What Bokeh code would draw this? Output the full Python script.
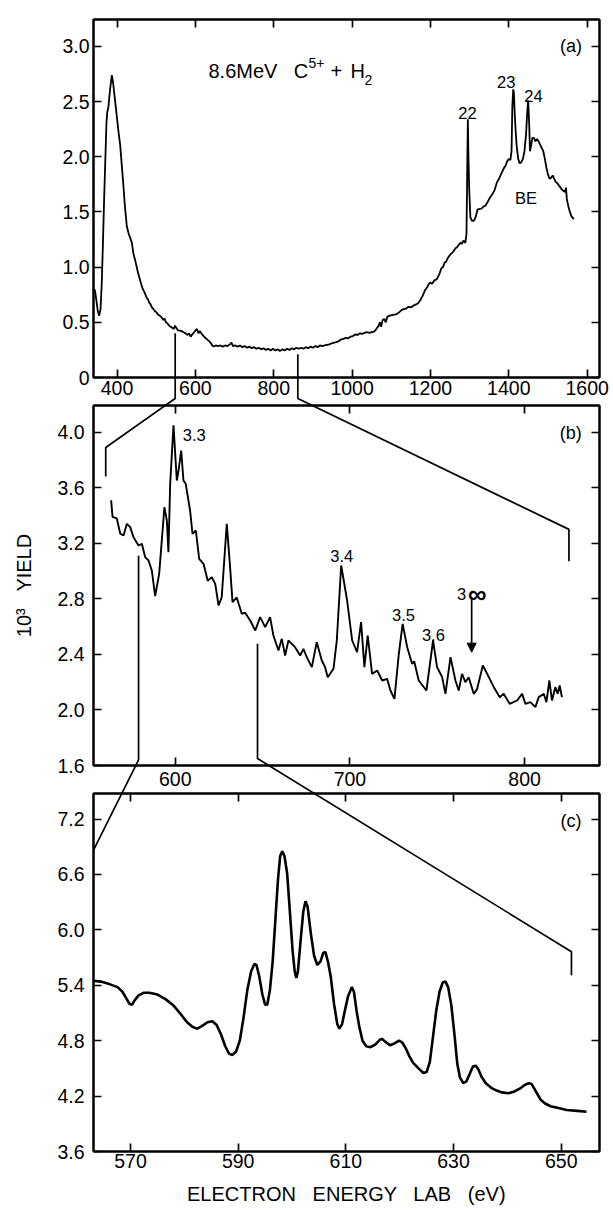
from bokeh.plotting import figure
from bokeh.layouts import column
from bokeh.models import (Range1d, LinearAxis, FixedTicker, Label, Arrow, NormalHead,
                          PrintfTickFormatter)
from bokeh.embed import file_html
from bokeh.resources import INLINE

FONT = "Liberation Sans"

# ---------------- data ----------------
# panel (a): 8.6 MeV C5+ + H2, full spectrum
a_energy = [342.6, 345, 348, 351, 354.6, 358, 361, 364, 367, 370, 373, 375, 378, 382, 386.8, 390, 395, 400, 404, 408,
            412, 416.7, 420, 425, 430, 434, 438, 442, 446.5, 451, 455, 459, 463, 466, 469, 472, 476, 479, 482, 486,
            489, 493, 497, 501, 505, 509, 514, 518, 521, 525, 529, 533, 537, 541, 545, 548, 551, 555, 560, 565,
            570, 575, 580, 584, 588, 592, 597, 601, 604, 608, 612, 616, 620, 625, 630, 635, 640, 643, 647, 652,
            658, 664, 670, 676, 682, 688, 692, 696, 702, 708, 714, 720, 726, 732, 738, 744, 750, 756, 762, 768,
            774, 780, 786, 792, 798, 804, 810, 816, 822, 828, 834, 840, 846, 852, 858, 864, 870, 876, 882, 888,
            894, 900, 906, 912, 918, 924, 930, 936, 942, 948, 954, 960, 966, 972, 978, 984, 990, 996, 1002, 1008,
            1014, 1020, 1026, 1032, 1038, 1044, 1050, 1056, 1060, 1064, 1068, 1071, 1074, 1078, 1082, 1086, 1090,
            1096, 1102, 1108, 1114, 1120, 1126, 1132, 1138, 1144, 1150, 1156, 1162, 1168, 1174, 1180, 1186, 1192,
            1198, 1204, 1210, 1216, 1222, 1228, 1232, 1236, 1240, 1244, 1248, 1252, 1256, 1260, 1264, 1268, 1272,
            1276, 1280, 1284, 1289, 1292, 1294, 1295.5, 1297, 1299, 1302, 1306, 1311, 1316, 1320, 1324, 1330,
            1336, 1340, 1346, 1352, 1358, 1364, 1370, 1375, 1380, 1384, 1388, 1392, 1396, 1400, 1404, 1407, 1409,
            1411.2, 1413, 1415, 1417, 1420, 1424, 1428, 1432, 1436, 1440, 1444, 1447, 1449.5, 1452, 1454, 1457,
            1460, 1464, 1468, 1472, 1476, 1480, 1484, 1488, 1492, 1496, 1500, 1504, 1508, 1512, 1516, 1520, 1524,
            1528, 1532, 1536, 1540, 1544, 1546, 1548, 1552, 1556, 1560, 1566]
a_yield = [0.80, 0.76, 0.68, 0.60, 0.56, 0.62, 0.85, 1.20, 1.60, 1.95, 2.30, 2.40, 2.45, 2.60, 2.74, 2.67, 2.51, 2.35, 2.22, 2.11,
           1.93, 1.72, 1.56, 1.37, 1.30, 1.26, 1.22, 1.12, 1.06, 0.99, 0.93, 0.88, 0.83, 0.80, 0.78, 0.755, 0.72, 0.71, 0.68, 0.66,
           0.635, 0.62, 0.60, 0.59, 0.57, 0.56, 0.545, 0.52, 0.535, 0.50, 0.49, 0.47, 0.46, 0.45, 0.44, 0.47, 0.45, 0.43, 0.425, 0.42,
           0.41, 0.40, 0.385, 0.40, 0.37, 0.39, 0.41, 0.43, 0.44, 0.40, 0.42, 0.395, 0.38, 0.36, 0.345, 0.33, 0.31, 0.29, 0.28, 0.29,
           0.285, 0.29, 0.28, 0.29, 0.285, 0.30, 0.315, 0.285, 0.29, 0.28, 0.29, 0.275, 0.285, 0.27, 0.28, 0.265, 0.275, 0.26, 0.27, 0.255,
           0.265, 0.25, 0.26, 0.245, 0.26, 0.245, 0.255, 0.24, 0.255, 0.245, 0.26, 0.25, 0.265, 0.255, 0.27, 0.26, 0.27, 0.26, 0.275, 0.265,
           0.28, 0.27, 0.285, 0.275, 0.29, 0.285, 0.29, 0.295, 0.30, 0.31, 0.315, 0.32, 0.33, 0.345, 0.35, 0.36, 0.355, 0.37, 0.375, 0.39,
           0.385, 0.40, 0.395, 0.405, 0.41, 0.405, 0.41, 0.415, 0.43, 0.45, 0.47, 0.50, 0.46, 0.52, 0.53, 0.50, 0.55,
           0.56, 0.565, 0.57, 0.575, 0.59, 0.61, 0.62, 0.625, 0.64, 0.635, 0.65, 0.66, 0.67, 0.70, 0.74, 0.79, 0.82,
           0.86, 0.85, 0.88, 0.89, 0.93, 0.99, 1.00, 1.04, 1.05, 1.08, 1.10, 1.12, 1.13, 1.15, 1.17, 1.18, 1.20,
           1.22, 1.21, 1.24, 1.22, 1.30, 1.90, 2.34, 2.00, 1.70, 1.45, 1.42, 1.42, 1.46, 1.52, 1.525, 1.53,
           1.55, 1.555, 1.59, 1.63, 1.66, 1.70, 1.77, 1.80, 1.84, 1.87, 1.90, 1.92, 1.96, 1.98, 1.97, 2.05, 2.45,
           2.61, 2.58, 2.40, 2.26, 2.10, 1.98, 1.94, 1.95, 1.98, 2.05, 2.20, 2.40, 2.51, 2.30, 2.05, 2.10,
           2.17, 2.17, 2.14, 2.16, 2.14, 2.11, 2.08, 2.05, 1.98, 1.90, 1.84, 1.80, 1.81, 1.83, 1.80, 1.77, 1.76,
           1.74, 1.72, 1.70, 1.69, 1.68, 1.72, 1.62, 1.55, 1.50, 1.46, 1.435]

# panel (b): expanded 560-825 eV
b_energy = [563.3, 564.1, 566.5, 568.5, 570.4, 572.3, 574.2, 576.1, 579.0, 580.9, 582.8, 584.7, 586.6, 588.5, 590.8,
            593.8, 595.2, 596.1, 597.1, 599.0, 600.9, 601.9, 603.4, 604.7, 606.0, 608.5, 609.9, 611.8, 613.7, 616.2,
            618.6, 620.9, 622.9, 624.8, 626.6, 629.5, 631.4, 632.8, 635.2, 638.1, 640.0, 642.9, 645.8, 648.6, 651.5,
            654.3, 656.2, 659.1, 661.0, 662.9, 664.8, 668.6, 671.5, 673.4, 675.3, 678.2, 681.0, 683.9, 685.8, 687.3,
            690.6, 692.5, 695.0, 696.5, 698.4, 701.3, 704.1, 706.4, 708.3, 710.2, 712.7, 715.6, 718.5, 721.3, 723.2,
            725.5, 728.0, 730.2, 732.8, 735.6, 736.8, 739.4, 743.8, 747.6, 749.9, 752.8, 754.7, 757.6, 760.4, 762.3,
            764.2, 766.1, 768.0, 770.9, 772.8, 776.1, 778.6, 782.4, 785.8, 788.0, 791.5, 795.7, 798.6, 800.5, 803.3,
            806.2, 808.1, 811.0, 812.5, 814.2, 815.7, 817.6, 819.0, 820.1, 821.4]
b_yield = [3.51, 3.39, 3.38, 3.27, 3.256, 3.34, 3.316, 3.244, 3.184, 3.196, 3.10, 3.076, 3.004, 2.82, 2.98,
           3.46, 3.364, 3.136, 3.628, 4.05, 3.652, 3.724, 3.868, 3.652, 3.628, 3.436, 3.268, 3.292, 3.088, 3.052,
           2.93, 2.956, 2.908, 2.752, 2.81, 3.34, 3.028, 2.776, 2.81, 2.692, 2.70, 2.644, 2.572, 2.668, 2.596,
           2.668, 2.536, 2.428, 2.512, 2.392, 2.50, 2.452, 2.392, 2.44, 2.38, 2.308, 2.488, 2.356, 2.308, 2.236,
           2.296, 2.50, 3.04, 2.93, 2.788, 2.50, 2.416, 2.632, 2.308, 2.536, 2.26, 2.284, 2.212, 2.224, 2.14,
           2.08, 2.404, 2.62, 2.452, 2.332, 2.35, 2.212, 2.14, 2.50, 2.308, 2.236, 2.116, 2.38, 2.212, 2.14,
           2.26, 2.20, 2.236, 2.116, 2.15, 2.32, 2.26, 2.164, 2.092, 2.116, 2.044, 2.068, 2.116, 2.044, 2.056,
           2.02, 2.092, 2.116, 2.056, 2.212, 2.068, 2.164, 2.116, 2.176, 2.092]

# panel (c): expanded 563-655 eV
c_energy = [562.8, 564.5, 566.2, 567.6, 568.5, 569.2, 569.8, 570.3, 570.8, 571.5, 572.5, 573.5, 575.0, 576.5, 578.0,
            579.3, 580.5, 581.5, 582.4, 583.3, 584.3, 585.2, 586.0, 586.8, 587.6, 588.3, 588.9, 589.6, 590.3, 591.0,
            591.7, 592.4, 593.0, 593.4, 593.9, 594.5, 595.0, 595.4, 595.9, 596.4, 596.9, 597.4, 597.8, 598.2, 598.6,
            599.1, 599.6, 600.1, 600.5, 600.8, 601.1, 601.6, 602.1, 602.5, 602.9, 603.5, 604.1, 604.7, 605.3, 605.8,
            606.2, 606.7, 607.2, 607.8, 608.4, 608.8, 609.3, 609.8, 610.4, 611.1, 611.5, 612.0, 612.5, 613.1, 613.8,
            614.6, 615.5, 616.3, 616.7, 617.3, 618.2, 619.0, 619.9, 620.5, 621.1, 621.8, 622.5, 623.5, 624.4, 625.0,
            625.6, 626.2, 626.8, 627.4, 628.0, 628.5, 629.0, 629.6, 630.2, 630.7, 631.2, 631.8, 632.4, 633.0, 633.6,
            634.1, 634.6, 635.2, 636.0, 637.0, 638.0, 639.0, 640.2, 641.3, 642.3, 643.2, 644.0, 644.5, 645.0, 645.6,
            646.2, 647.0, 648.0, 649.5, 651.0, 653.0, 654.7]
c_yield = [5.45, 5.44, 5.41, 5.38, 5.33, 5.26, 5.20, 5.19, 5.24, 5.29, 5.32, 5.32, 5.30, 5.25, 5.18,
           5.09, 5.00, 4.95, 4.93, 4.96, 5.00, 5.01, 4.97, 4.87, 4.74, 4.66, 4.645, 4.68, 4.80, 5.05,
           5.35, 5.55, 5.63, 5.62, 5.50, 5.30, 5.19, 5.19, 5.35, 5.65, 6.10, 6.55, 6.80, 6.85, 6.80,
           6.61, 6.20, 5.78, 5.55, 5.48, 5.55, 5.89, 6.20, 6.31, 6.25, 5.96, 5.72, 5.62, 5.66, 5.75,
           5.76, 5.65, 5.49, 5.20, 4.98, 4.93, 4.98, 5.12, 5.28, 5.38, 5.33, 5.12, 4.95, 4.80, 4.74,
           4.73, 4.76, 4.81, 4.82, 4.79, 4.75, 4.77, 4.80, 4.78, 4.72, 4.63, 4.56, 4.50, 4.45, 4.46,
           4.57, 4.85, 5.13, 5.33, 5.43, 5.44, 5.38, 5.18, 4.85, 4.55, 4.40, 4.34, 4.36, 4.44, 4.52,
           4.53, 4.49, 4.41, 4.34, 4.29, 4.26, 4.24, 4.23, 4.25, 4.28, 4.32, 4.34, 4.33, 4.28, 4.22,
           4.16, 4.12, 4.09, 4.07, 4.05, 4.04, 4.03]

a_xticks = [400, 600, 800, 1000, 1200, 1400, 1600]
a_yticks = [0, 0.5, 1.0, 1.5, 2.0, 2.5, 3.0]
b_xticks = [600, 700, 800]
b_yticks = [1.6, 2.0, 2.4, 2.8, 3.2, 3.6, 4.0]
c_xticks = [570, 590, 610, 630, 650]
c_yticks = [3.6, 4.2, 4.8, 5.4, 6.0, 6.6, 7.2]

# zoom brackets: (panel, energy, yield) polylines linking the panels
conn_ab_1 = [("a", 548.5, 0.40), ("a", 548.5, -0.19), ("b", 560.2, 3.89), ("b", 560.2, 3.68)]
conn_ab_2 = [("a", 861.5, 0.21), ("a", 861.5, -0.19), ("b", 825.4, 3.30), ("b", 825.4, 3.07)]
conn_bc_1 = [("b", 579.0, 3.11), ("b", 579.0, 1.64), ("c", 563.13, 6.865)]
conn_bc_2 = [("b", 647.1, 2.476), ("b", 647.1, 1.65), ("c", 651.9, 5.764), ("c", 651.9, 5.51)]

# ---------------- layout geometry (page pixels) ----------------
FL, FW, BR = 93, 506, 14
GEOM = {
    "a": dict(x0=340.0, x1=1631.5, y0=0.0, y1=3.243, top=19, h=358, bt=19, bb=26),
    "b": dict(x0=553.2, x1=842.9, y0=1.6, y1=4.192, top=405, h=360, bt=2, bb=26),
    "c": dict(x0=563.13, x1=657.11, y0=3.6, y1=7.477, top=793, h=358, bt=2, bb=61),
}


def to_px(g, x, y):
    return (FL + (x - g["x0"]) / (g["x1"] - g["x0"]) * FW,
            g["top"] + g["h"] - (y - g["y0"]) / (g["y1"] - g["y0"]) * g["h"])


def from_px(g, px, py):
    return (g["x0"] + (px - FL) / FW * (g["x1"] - g["x0"]),
            g["y0"] + (g["top"] + g["h"] - py) / g["h"] * (g["y1"] - g["y0"]))


TICK_FS = "19.5px"
LW_FRAME = 2.0


def style_axis(ax, ticks, standoff, show_labels=True, fmt=None):
    ax.ticker = FixedTicker(ticks=ticks)
    ax.axis_line_color = "black"
    ax.axis_line_width = LW_FRAME
    ax.major_tick_line_color = "black"
    ax.major_tick_line_width = 1.7
    ax.major_tick_in = 8
    ax.major_tick_out = 0
    ax.minor_tick_line_color = None
    ax.major_label_text_font = FONT
    if show_labels:
        ax.major_label_text_color = "black"
        ax.major_label_text_font_size = TICK_FS
        ax.major_label_standoff = standoff
        if fmt:
            ax.formatter = PrintfTickFormatter(format=fmt)
    else:
        ax.major_label_text_color = None
        ax.major_label_text_font_size = "1px"
        ax.major_label_standoff = 0
        ax.major_label_overrides = {t: "" for t in ticks}
    ax.axis_label_text_font = FONT
    ax.axis_label_text_font_style = "normal"
    ax.axis_label_text_font_size = "20px"
    ax.axis_label_text_color = "black"


def make_panel(key, xticks, yticks, xstand, ystand, yfmt):
    g = GEOM[key]
    p = figure(frame_width=FW, frame_height=g["h"],
               x_range=Range1d(g["x0"], g["x1"]), y_range=Range1d(g["y0"], g["y1"]),
               output_backend="svg", toolbar_location=None,
               min_border_left=FL, min_border_right=BR,
               min_border_top=g["bt"], min_border_bottom=g["bb"],
               background_fill_color="white", border_fill_color="white",
               outline_line_color="black", outline_line_width=LW_FRAME)
    p.grid.visible = False
    style_axis(p.below[0], xticks, xstand)
    style_axis(p.left[0], yticks, ystand, fmt=yfmt)
    top = LinearAxis()
    style_axis(top, xticks, 0, show_labels=False)
    p.add_layout(top, "above")
    right = LinearAxis()
    style_axis(right, yticks, 0, show_labels=False)
    p.add_layout(right, "right")
    return p


def draw_connectors(p, key):
    g = GEOM[key]
    for conn in (conn_ab_1, conn_ab_2, conn_bc_1, conn_bc_2):
        xs, ys = [], []
        for panel, x, y in conn:
            px, py = to_px(GEOM[panel], x, y)
            dx, dy = from_px(g, px, py)
            xs.append(dx)
            ys.append(dy)
        p.line(xs, ys, line_color="black", line_width=1.7, level="overlay")


def lab(p, x, y, text, size="16.5px", align="left", baseline="alphabetic", style="normal"):
    p.add_layout(Label(x=x, y=y, text=text, text_font=FONT, text_font_size=size,
                       text_align=align, text_baseline=baseline, text_color="black",
                       text_font_style=style))


# ---------------- panel (a) ----------------
pa = make_panel("a", a_xticks, a_yticks, 3, 4, "%.1f")
pa.left[0].major_label_overrides = {0: "0"}
pa.line(a_energy, a_yield, line_color="black", line_width=1.8)
draw_connectors(pa, "a")
lab(pa, 633.5, 2.781, "8.6MeV", "20px")
lab(pa, 851.3, 2.781, "C", "20px")
lab(pa, 888.8, 2.850, "5+", "14px")
lab(pa, 944.9, 2.781, "+", "20px")
lab(pa, 996.0, 2.781, "H", "20px")
lab(pa, 1031.7, 2.699, "2", "14px")
lab(pa, 1294.6, 2.394, "22", align="center")
lab(pa, 1393.6, 2.675, "23", align="center")
lab(pa, 1463.0, 2.554, "24", align="center")
lab(pa, 1443.9, 1.628, "BE", align="center")
lab(pa, 1558.7, 3.003, "(a)", "18px", align="center", baseline="middle")
lab(pa, 1634.0, 3.279, "C 110-422/423/424", "6px", align="right")

# ---------------- panel (b) ----------------
pb = make_panel("b", b_xticks, b_yticks, 6, 9, "%.1f")
pb.left[0].axis_label = "10\u00b3 \u00a0\u00a0YIELD"
pb.left[0].axis_label_standoff = 19
pb.line(b_energy, b_yield, line_color="black", line_width=1.9)
draw_connectors(pb, "b")
lab(pb, 610.9, 3.983, "3.3", align="center")
lab(pb, 695.3, 3.112, "3.4", align="center")
lab(pb, 730.7, 2.687, "3.5", align="center")
lab(pb, 747.8, 2.543, "3.6", align="center")
lab(pb, 761.3, 2.836, "3")
lab(pb, 767.6, 2.836, "\u221e", "26px", style="bold")
lab(pb, 826.5, 3.994, "(b)", "18px", align="center", baseline="middle")
pb.add_layout(Arrow(x_start=769.7, y_start=2.812, x_end=769.7, y_end=2.416,
                    line_color="black", line_width=1.7,
                    end=NormalHead(size=9, fill_color="black", line_color="black", line_width=1)))

# ---------------- panel (c) ----------------
pc = make_panel("c", c_xticks, c_yticks, 2, 9, "%.1f")
pc.below[0].axis_label = "ELECTRON \u00a0\u00a0ENERGY \u00a0\u00a0LAB \u00a0\u00a0(eV)"
pc.below[0].axis_label_standoff = 12
pc.line(c_energy, c_yield, line_color="black", line_width=2.6)
draw_connectors(pc, "c")
lab(pc, 651.8, 7.176, "(c)", "18px", align="center", baseline="middle")

layout = column(pa, pb, pc, spacing=0)
open("out.html", "w").write(file_html(layout, INLINE))
